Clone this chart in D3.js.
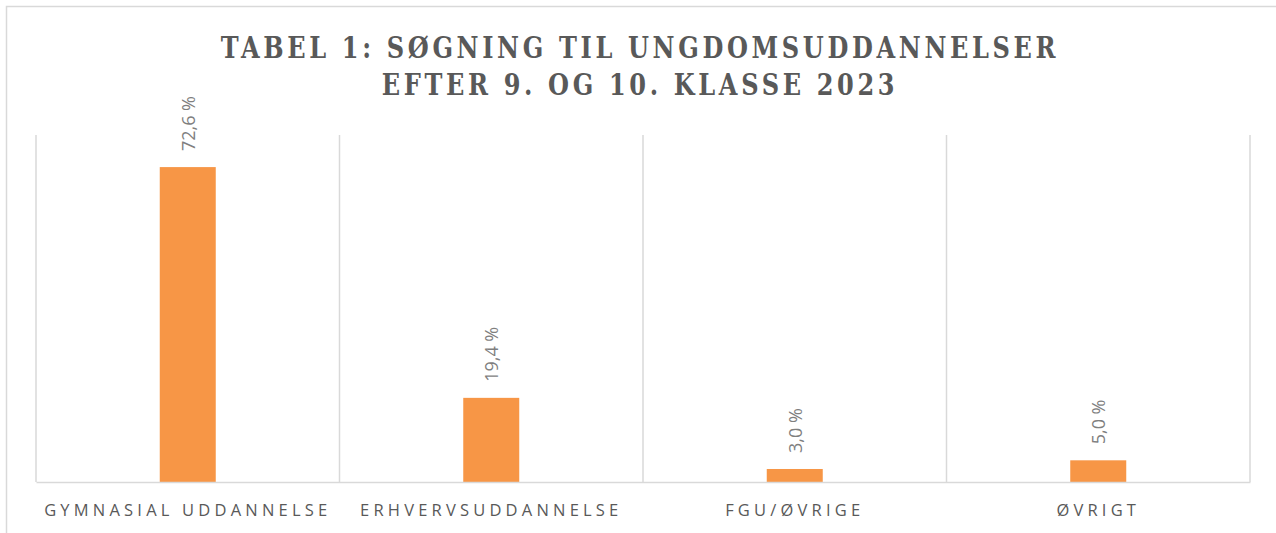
<!DOCTYPE html>
<html>
<head>
<meta charset="utf-8">
<script src="https://cdn.jsdelivr.net/npm/d3@7"></script>
<style>
    body { margin: 0; background: #fff; }
    svg { display: block; }
</style>
</head>
<body>
<div id="chart"></div>
<script>
var categories = ['GYMNASIAL UDDANNELSE', 'ERHVERVSUDDANNELSE', 'FGU/ØVRIGE', 'ØVRIGT'];
var values = [72.6, 19.4, 3.0, 5.0];
var title_lines = ['TABEL 1: SØGNING TIL UNGDOMSUDDANNELSER', 'EFTER 9. OG 10. KLASSE 2023'];

var W = 1276, H = 533;
var margins = {top: 135, right: 26, bottom: 51, left: 36},
    width = W - margins.left - margins.right,
    height = H - margins.top - margins.bottom,
    num_format = function(v) { return d3.format('.1f')(v).replace('.', ',') + ' %'; };

var svg = d3.select('#chart').append('svg')
    .attr('width', W)
    .attr('height', H);

// chart frame (cropped at right and bottom)
svg.append('rect')
    .attr('x', 6.5).attr('y', 6.5)
    .attr('width', W + 10).attr('height', H + 10)
    .attr('fill', 'none')
    .attr('stroke', '#d9d9d9')
    .attr('stroke-width', 1.5);

// title - squeezed horizontally to look like a condensed face
var squeeze = 0.83;
svg.append('g')
    .attr('transform', 'translate(' + (W / 2 + 2) + ',0) scale(' + squeeze + ',1)')
    .append('text')
    .attr('text-anchor', 'middle')
    .attr('fill', '#595959')
    .style('font-family', '"DejaVu Serif", serif')
    .style('font-weight', 'bold')
    .style('font-size', '29px')
    .style('letter-spacing', '4.4px')
    .selectAll('tspan')
    .data(title_lines)
    .enter().append('tspan')
    .attr('x', 0)
    .attr('y', function(d, i) { return 58 + i * 37; })
    .text(function(d) { return d; });

var xScale = d3.scaleBand()
    .domain(categories)
    .range([0, width]);

var yScale = d3.scaleLinear()
    .domain([0, 80])
    .range([height, 0]);

var g = svg.append('g')
    .attr('transform', 'translate(' + margins.left + ',' + margins.top + ')');

// vertical category dividers
var dividers = d3.range(categories.length + 1).map(function(i) {
    return i < categories.length ? xScale(categories[i]) : width;
});
g.selectAll('line.div')
    .data(dividers)
    .enter().append('line')
    .attr('class', 'div')
    .attr('x1', function(d) { return d; })
    .attr('x2', function(d) { return d; })
    .attr('y1', 0)
    .attr('y2', height)
    .attr('stroke', '#d9d9d9')
    .attr('stroke-width', 1.5);

var bar_width = 56;
g.selectAll('rect.bar')
    .data(values)
    .enter().append('rect')
    .attr('class', 'bar')
    .attr('x', function(d, i) { return xScale(categories[i]) + xScale.bandwidth() / 2 - bar_width / 2; })
    .attr('y', function(d) { return yScale(d); })
    .attr('width', bar_width)
    .attr('height', function(d) { return height - yScale(d); })
    .attr('fill', '#f79646');

// value labels, rotated
g.selectAll('text.val')
    .data(values)
    .enter().append('text')
    .attr('class', 'val')
    .attr('transform', function(d, i) {
        var cx = xScale(categories[i]) + xScale.bandwidth() / 2 + 7;
        return 'translate(' + cx + ',' + (yScale(d) - 16) + ') rotate(-90)';
    })
    .attr('fill', '#7f7f7f')
    .style('font-family', '"Open Sans", sans-serif')
    .style('font-size', '18px')
    .text(function(d) { return num_format(d); });

// x axis
var xAxis = d3.axisBottom(xScale).tickSize(0).tickPadding(22);
var ax = g.append('g')
    .attr('transform', 'translate(0,' + height + ')')
    .call(xAxis);
ax.select('.domain').attr('stroke', '#d9d9d9').attr('stroke-width', 1.5);
ax.selectAll('text')
    .attr('fill', '#595959')
    .style('font-family', '"Open Sans", sans-serif')
    .style('font-size', '16.5px')
    .style('letter-spacing', '4.2px');
</script>
</body>
</html>
